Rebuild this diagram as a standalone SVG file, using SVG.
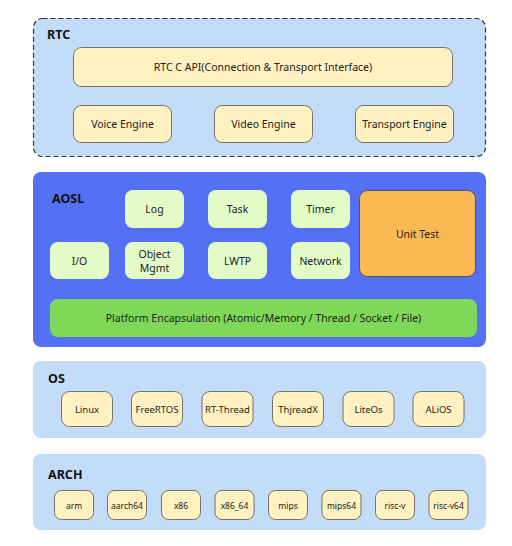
<svg xmlns="http://www.w3.org/2000/svg" width="512" height="546" viewBox="0 0 512 546">
<style>
text{font-family:"Noto Sans","Open Sans","DejaVu Sans",sans-serif;fill:#222;text-anchor:middle;dominant-baseline:central}
.lbl{font-weight:bold;font-size:12.5px;text-anchor:start;fill:#111}
.layer{fill:#c3dcfa}
.y{fill:#fff1c2;stroke:#77735e;stroke-width:1}
.g{fill:#e3fcc7}
.t11{font-size:10.5px}
.t10{font-size:9.5px}
.t9{font-size:8.5px}
</style>
<rect x="0" y="0" width="512" height="546" fill="#ffffff"/>
<g id="rtc">
<rect x="33.5" y="18.5" width="452" height="138" rx="9" class="layer" stroke="#333" stroke-width="1.2" stroke-dasharray="5,3"/>
<text class="lbl" x="47" y="34">RTC</text>
</g>
<g id="rtc-api"><rect class="y" x="73.5" y="47.5" width="379" height="39" rx="8"/><text class="t11" x="263" y="67">RTC C API(Connection &amp; Transport Interface)</text></g>
<g id="voice-engine"><rect class="y" x="73.5" y="105.5" width="98" height="37" rx="8"/><text class="t11" x="122.5" y="124">Voice Engine</text></g>
<g id="video-engine"><rect class="y" x="214.5" y="105.5" width="98" height="37" rx="8"/><text class="t11" x="263.5" y="124">Video Engine</text></g>
<g id="transport-engine"><rect class="y" x="355.5" y="105.5" width="98" height="37" rx="8"/><text class="t11" x="404.5" y="124">Transport Engine</text></g>

<g id="aosl">
<rect x="33" y="172" width="453" height="175" rx="8" fill="#5471f6"/>
<text class="lbl" x="52" y="198">AOSL</text>
</g>
<g id="log"><rect class="g" x="125" y="190" width="59" height="38" rx="8"/><text class="t11" x="154.5" y="209">Log</text></g>
<g id="task"><rect class="g" x="208" y="190" width="59" height="38" rx="8"/><text class="t11" x="237.5" y="209">Task</text></g>
<g id="timer"><rect class="g" x="291" y="190" width="59" height="38" rx="8"/><text class="t11" x="320.5" y="209">Timer</text></g>
<g id="io"><rect class="g" x="50" y="242" width="59" height="37" rx="8"/><text class="t11" x="79.5" y="260.5">I/O</text></g>
<g id="object-mgmt"><rect class="g" x="125" y="242" width="59" height="37" rx="8"/><text class="t11" x="154.5" y="253.5">Object</text><text class="t11" x="154.5" y="268">Mgmt</text></g>
<g id="lwtp"><rect class="g" x="208" y="242" width="59" height="37" rx="8"/><text class="t11" x="237.5" y="260.5">LWTP</text></g>
<g id="network"><rect class="g" x="291" y="242" width="59" height="37" rx="8"/><text class="t11" x="320.5" y="260.5">Network</text></g>
<g id="unit-test"><rect x="359.5" y="190.5" width="116" height="86" rx="8" fill="#fbb954" stroke="#555" stroke-width="1"/><text class="t11" x="417.5" y="234">Unit Test</text></g>
<g id="platform"><rect x="50" y="299" width="427" height="38" rx="8" fill="#7dd957"/><text class="t11" x="263.5" y="318">Platform Encapsulation (Atomic/Memory / Thread / Socket / File)</text></g>

<g id="os">
<rect x="33" y="361" width="453" height="77" rx="8" class="layer"/>
<text class="lbl" x="48" y="378">OS</text>
</g>
<g id="linux"><rect class="y" x="61.5" y="391.5" width="51" height="35" rx="8"/><text class="t10" x="87" y="409">Linux</text></g>
<g id="freertos"><rect class="y" x="131.5" y="391.5" width="51" height="35" rx="8"/><text class="t10" x="157" y="409">FreeRTOS</text></g>
<g id="rt-thread"><rect class="y" x="202" y="391.5" width="51" height="35" rx="8"/><text class="t10" x="227.5" y="409">RT-Thread</text></g>
<g id="threadx"><rect class="y" x="272.5" y="391.5" width="51" height="35" rx="8"/><text class="t10" x="298" y="409">ThjreadX</text></g>
<g id="liteos"><rect class="y" x="343" y="391.5" width="51" height="35" rx="8"/><text class="t10" x="368.5" y="409">LiteOs</text></g>
<g id="alios"><rect class="y" x="413" y="391.5" width="51" height="35" rx="8"/><text class="t10" x="438.5" y="409">ALiOS</text></g>

<g id="arch">
<rect x="33" y="454" width="453" height="76" rx="8" class="layer"/>
<text class="lbl" x="48" y="474">ARCH</text>
</g>
<g id="arm"><rect class="y" x="54.5" y="490.5" width="39" height="29" rx="7"/><text class="t9" x="74" y="505">arm</text></g>
<g id="aarch64"><rect class="y" x="107.5" y="490.5" width="39" height="29" rx="7"/><text class="t9" x="127" y="505">aarch64</text></g>
<g id="x86"><rect class="y" x="161.5" y="490.5" width="39" height="29" rx="7"/><text class="t9" x="181" y="505">x86</text></g>
<g id="x86-64"><rect class="y" x="215" y="490.5" width="39" height="29" rx="7"/><text class="t9" x="234.5" y="505">x86_64</text></g>
<g id="mips"><rect class="y" x="268.5" y="490.5" width="39" height="29" rx="7"/><text class="t9" x="288" y="505">mips</text></g>
<g id="mips64"><rect class="y" x="322" y="490.5" width="39" height="29" rx="7"/><text class="t9" x="341.5" y="505">mips64</text></g>
<g id="risc-v"><rect class="y" x="375.5" y="490.5" width="39" height="29" rx="7"/><text class="t9" x="395" y="505">risc-v</text></g>
<g id="risc-v64"><rect class="y" x="429" y="490.5" width="39" height="29" rx="7"/><text class="t9" x="448.5" y="505">risc-v64</text></g>
<g id="connectors"></g>
</svg>
